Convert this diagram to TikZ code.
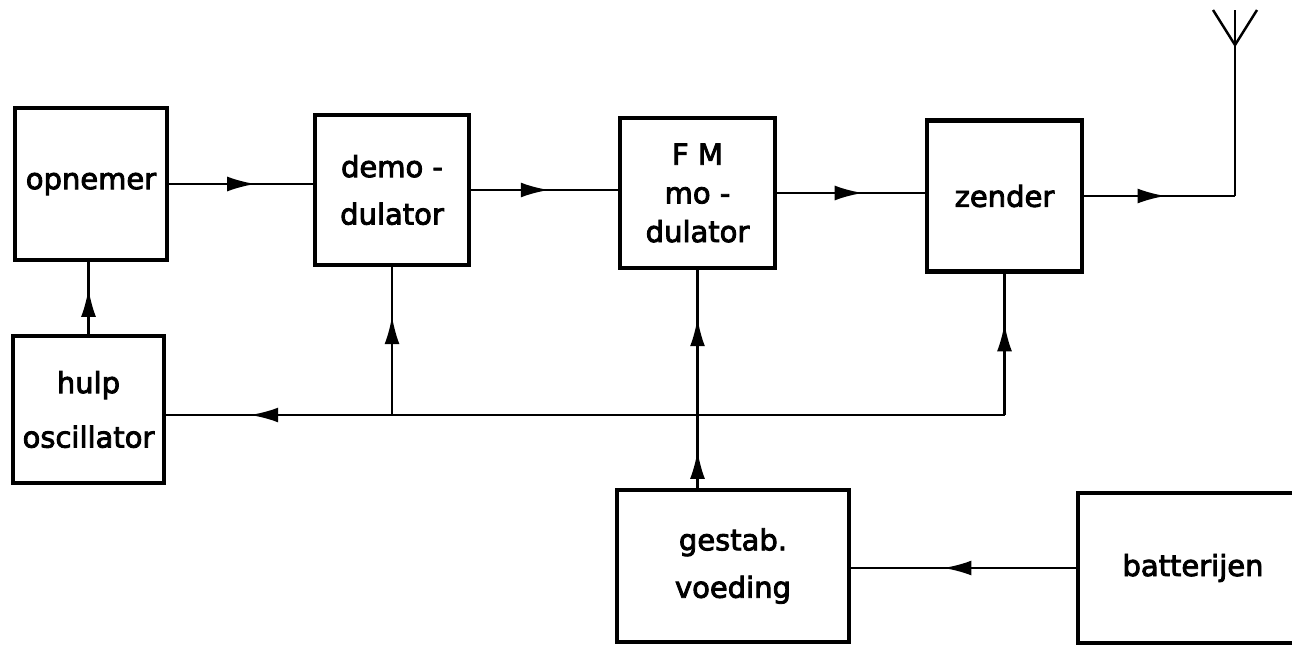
\documentclass[tikz,border=0pt]{standalone}
\usepackage{fontspec}
\newfontfamily\blokfont[FakeBold=3]{DejaVu Sans}
\usetikzlibrary{positioning, arrows.meta, decorations.markings}

\tikzset{
  blok/.style={draw, line width=2.6pt, align=center, inner sep=0pt,
    font=\blokfont\fontsize{16.5}{27}\selectfont},
  lijn/.style={line width=1.4pt},
  pijl/.style={postaction={decorate, decoration={markings,
    mark=at position #1 with {\arrow{Latex[length=16pt,width=8.5pt]}}}}},
}

\begin{document}
\begin{tikzpicture}

\useasboundingbox (0,0) rectangle (25.84,12.92);

% Blokken
\node[blok, minimum width=3.04cm, minimum height=3.04cm] (opnemer) at (1.82,9.24) {opnemer};
\node[blok, minimum width=3.08cm, minimum height=3.0cm] (demod) at (7.84,9.12) {demo -\\dulator};
\node[blok, minimum width=3.1cm, minimum height=3.0cm] (fm) at (13.95,9.06) {F M\\[-5pt]mo -\\[-5pt]dulator};
\node[blok, minimum width=3.1cm, minimum height=3.02cm] (zender) at (20.09,9.0) {zender};
\node[blok, minimum width=3.02cm, minimum height=2.94cm] (hulp) at (1.77,4.73) {hulp\\[4pt]oscillator};
\node[blok, minimum width=4.64cm, minimum height=3.04cm] (gestab) at (14.66,1.6) {gestab.\\voeding};
\node[blok, minimum width=4.6cm, minimum height=3.0cm] (batt) at (23.86,1.56) {batterijen};

% Antenne
\coordinate (antvoet) at (24.7,9.0);
\coordinate (anttop) at (24.7,12.72);
\coordinate (antmid) at (24.7,12.02);
\coordinate (antL) at (24.26,12.72);
\coordinate (antR) at (25.14,12.72);

% Signaalweg
\draw[lijn, pijl=0.6] (opnemer.east) -- (opnemer.east -| demod.west);
\draw[lijn, pijl=0.53] (demod.east) -- (demod.east -| fm.west);
\draw[lijn, pijl=0.58] (fm.east) -- (fm.east -| zender.west);
\draw[lijn, pijl=0.54] (zender.east) -- (antvoet);
\draw[lijn] (antvoet) -- (anttop);
\draw[lijn] (antL) -- (antmid) -- (antR);

% Hulposcillator
\coordinate (busR) at (zender.south |- 0,4.62);
\coordinate (busL) at (demod.south |- 0,4.62);
\draw[lijn, pijl=0.63] (hulp.north) -- (hulp.north |- opnemer.south);
\draw[lijn, pijl=0.9] (busR) -- (busR -| hulp.east);
\draw[lijn, pijl=0.65] (busR) -- (zender.south);
\draw[lijn, pijl=0.67] (busL) -- (demod.south);

% Voeding
\draw[lijn, pijl=0.17, pijl=0.78] (gestab.north -| fm.south) -- (fm.south);
\draw[lijn, pijl=0.59] (batt.west) -- (batt.west -| gestab.east);
\end{tikzpicture}
\end{document}
